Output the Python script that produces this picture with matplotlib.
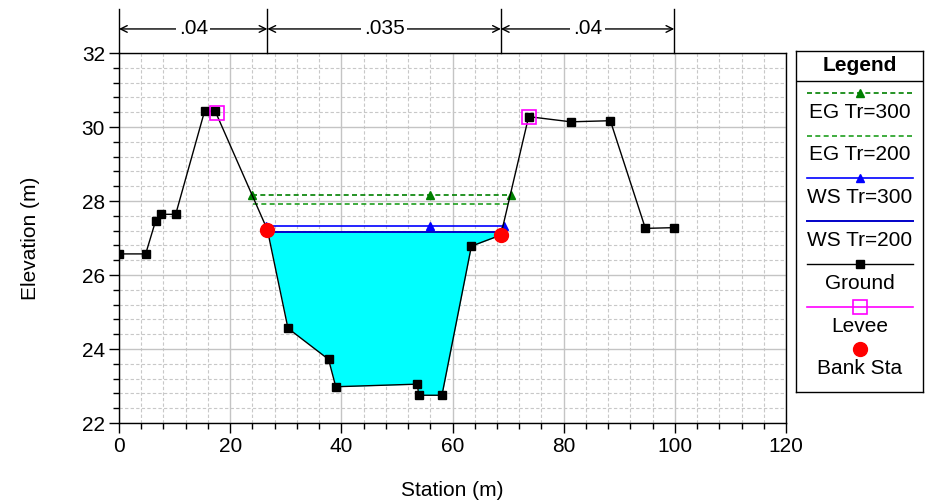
import numpy as np
import matplotlib
matplotlib.use("Agg")
import matplotlib.pyplot as plt
import matplotlib.transforms as mtransforms
from matplotlib.lines import Line2D
from matplotlib.ticker import MultipleLocator

plt.rcParams["font.family"] = ["Liberation Sans", "DejaVu Sans"]

# ── data ──
ground_x = [0, 4.8, 6.6, 7.6, 10.2, 15.4, 17.3, 26.7, 30.4, 37.7, 39.0,
            53.7, 53.9, 58.1, 63.4, 68.7, 73.7, 81.3, 88.4, 94.7, 99.9]
ground_y = [26.57, 26.57, 27.47, 27.64, 27.64, 30.43, 30.43, 27.22, 24.56,
            23.72, 22.98, 23.05, 22.75, 22.75, 26.78, 27.08, 30.28, 30.14,
            30.17, 27.26, 27.28]
levee_x = [17.6, 73.7]
levee_y = [30.38, 30.28]
bank_x = [26.7, 68.7]
bank_y = [27.22, 27.08]

ws200 = 27.15
ws200_x = [26.8, 68.9]
ws300 = 27.33
ws300_x = [26.5, 56.0, 69.2]
eg300 = 28.15
eg300_x = [24.0, 56.0, 70.5]
eg200 = 27.92
eg200_x = [24.1, 70.1]

n_sta = [0, 26.7, 68.7, 99.9]
n_val = [".04", ".035", ".04"]

FS = 15

fig = plt.figure(figsize=(9.32, 5.03), dpi=100)
ax = fig.add_axes([119 / 932, 80 / 503, 667 / 932, 370 / 503])

# water fill inside the main channel
gx = np.array(ground_x)
gy = np.array(ground_y)
inside = (gx >= bank_x[0]) & (gx <= bank_x[1] + 3)
ax.fill_between(gx, gy, ws200, where=inside & (gy < ws200), interpolate=True,
                color="#00FFFF", lw=0, zorder=2)

ax.plot(eg300_x, [eg300] * len(eg300_x), color="#008000", ls=(0, (3, 2)),
        lw=1.2, marker="^", ms=6, zorder=3)
ax.plot(eg200_x, [eg200] * len(eg200_x), color="#1E9E1E", ls=(0, (3, 2)),
        lw=1.2, zorder=3)
ax.plot(ws300_x, [ws300] * len(ws300_x), color="#0000FF", lw=1.2,
        marker="^", ms=6, zorder=3)
ax.plot(ws200_x, [ws200] * len(ws200_x), color="#0000C8", lw=1.4, zorder=3)
ax.plot(ground_x, ground_y, color="black", lw=1, marker="s", ms=5.5, zorder=4)
ax.plot(levee_x, levee_y, ls="none", marker="s", ms=10, mfc="none",
        mec="#FF00FF", mew=1.2, zorder=5)
ax.plot(bank_x, bank_y, ls="none", marker="o", ms=10, color="#FF0000", zorder=5)

ax.set_xlim(0, 120)
ax.set_ylim(22, 32)
ax.xaxis.set_major_locator(MultipleLocator(20))
ax.xaxis.set_minor_locator(MultipleLocator(4))
ax.yaxis.set_major_locator(MultipleLocator(2))
ax.yaxis.set_minor_locator(MultipleLocator(0.4))
ax.tick_params(which="major", direction="out", length=7, width=1,
               labelsize=FS, pad=3)
ax.tick_params(which="minor", direction="out", length=4.5, width=1)
ax.grid(True, which="major", color="#C4C4C4", lw=1, ls="-", zorder=0)
ax.grid(True, which="minor", color="#C8C8C8", lw=0.8, ls=(0, (3, 2)), zorder=0)
ax.set_axisbelow(True)
for sp in ax.spines.values():
    sp.set_linewidth(1)

ax.set_xlabel("Station (m)", fontsize=FS)
ax.set_ylabel("Elevation (m)", fontsize=FS)
ax.xaxis.set_label_coords(0.5, -0.157)
ax.yaxis.set_label_coords(-0.119, 0.5)

# Manning n annotations above the plot
trans = mtransforms.blended_transform_factory(ax.transData, ax.transAxes)
for s in n_sta:
    ax.plot([s, s], [1.0, 1.119], color="black", lw=1, transform=trans,
            clip_on=False)
for i, v in enumerate(n_val):
    ax.annotate("", xy=(n_sta[i], 1.065), xytext=(n_sta[i + 1], 1.065),
                xycoords=trans, textcoords=trans,
                arrowprops=dict(arrowstyle="<->", lw=1, shrinkA=0, shrinkB=0,
                                mutation_scale=12))
    ax.text((n_sta[i] + n_sta[i + 1]) / 2, 1.065, v, transform=trans,
            ha="center", va="center", fontsize=FS,
            bbox=dict(facecolor="white", edgecolor="none", pad=2))

# custom legend box
lg = fig.add_axes([796 / 932, 111 / 503, 127 / 932, 341 / 503])
lg.set_xlim(0, 127)
lg.set_ylim(341, 0)
lg.set_xticks([])
lg.set_yticks([])
for sp in lg.spines.values():
    sp.set_linewidth(1)
lg.text(63.5, 14, "Legend", ha="center", va="center", fontsize=FS,
        fontweight="bold")
lg.plot([0, 127], [29.7, 29.7], color="black", lw=1)

xl = [10.7, 117.3]
xm = 64
entries = [
    ("EG Tr=300", dict(color="#008000", ls=(0, (3, 2)), lw=1.2), "^",
     dict(ms=6, color="#008000")),
    ("EG Tr=200", dict(color="#1E9E1E", ls=(0, (3, 2)), lw=1.2), None, None),
    ("WS Tr=300", dict(color="#0000FF", lw=1.2), "^", dict(ms=6, color="#0000FF")),
    ("WS Tr=200", dict(color="#0000C8", lw=1.4), None, None),
    ("Ground", dict(color="black", lw=1), "s", dict(ms=5.5, color="black")),
    ("Levee", dict(color="#FF00FF", lw=1.2), "s",
     dict(ms=10, mfc="none", mec="#FF00FF", mew=1.2)),
    ("Bank Sta", None, "o", dict(ms=10, color="#FF0000")),
]
for k, (label, lstyle, mk, mstyle) in enumerate(entries):
    yl = 41.7 + 42.8 * k
    if lstyle is not None:
        lg.add_line(Line2D(xl, [yl, yl], **lstyle))
    if mk is not None:
        lg.add_line(Line2D([xm], [yl], ls="none", marker=mk, **mstyle))
    lg.text(63.5, yl + 19.5, label, ha="center", va="center", fontsize=FS)

fig.savefig("out.png", dpi=100)
